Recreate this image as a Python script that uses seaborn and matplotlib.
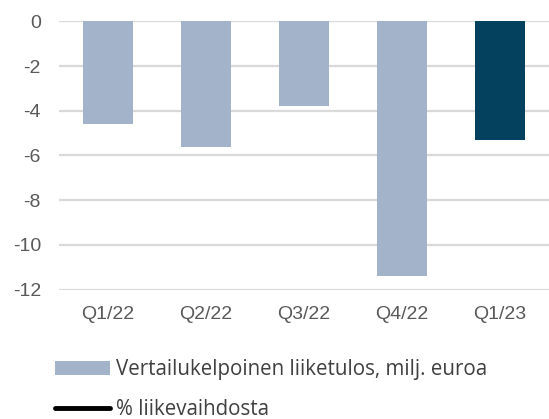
import pandas as pd
import matplotlib.pyplot as plt
import seaborn as sns
from matplotlib.patches import Patch
from matplotlib.lines import Line2D

# Quarter labels and operating result (milj. euroa)
quarters = ['Q1/22', 'Q2/22', 'Q3/22', 'Q4/22', 'Q1/23']
result = [-4.6, -5.6, -3.8, -11.4, -5.3]
bar_colors = ['#A3B3C9', '#A3B3C9', '#A3B3C9', '#A3B3C9', '#03415F']
yticks = [0, -2, -4, -6, -8, -10, -12]

df = pd.DataFrame({'quarter': quarters, 'result': result})

sns.set_style('white')
plt.rcParams['font.family'] = ['Liberation Sans', 'DejaVu Sans']

fig = plt.figure(figsize=(5.49, 4.19), dpi=100)
ax = fig.add_axes([0.1075, 0.309, 0.8925, 0.64])

sns.barplot(data=df, x='quarter', y='result', hue='quarter',
            palette=bar_colors, saturation=1, width=0.51, legend=False,
            ax=ax, edgecolor='none', zorder=3)

ax.set_ylim(-12, 0)
ax.set_yticks(yticks)
ax.set_yticklabels([str(t) for t in yticks])
ax.set_xlim(-0.5, 4.5)
ax.grid(axis='y', color='#D9D9D9', linewidth=1.6, zorder=0)
ax.set_axisbelow(True)
for s in ax.spines.values():
    s.set_visible(False)
ax.set_xlabel('')
ax.set_ylabel('')
ax.tick_params(axis='both', length=0, labelsize=14, colors='#595959')
ax.tick_params(axis='x', pad=12)
ax.tick_params(axis='y', pad=13)

handles = [Patch(facecolor='#A3B3C9', edgecolor='none'),
           Line2D([0], [0], color='black', linewidth=3.5, solid_capstyle='round')]
labels = ['Vertailukelpoinen liiketulos, milj. euroa', '% liikevaihdosta']
fig.legend(handles, labels, loc='upper left',
           bbox_to_anchor=(0.085, 1 - 351 / 419),
           bbox_transform=fig.transFigure, frameon=False,
           prop={'family': 'Open Sans', 'size': 14.8}, labelcolor='#404040',
           handlelength=2.7, handleheight=0.65, handletextpad=0.25,
           labelspacing=0.93, borderaxespad=0)

fig.savefig('out.png', dpi=100)
